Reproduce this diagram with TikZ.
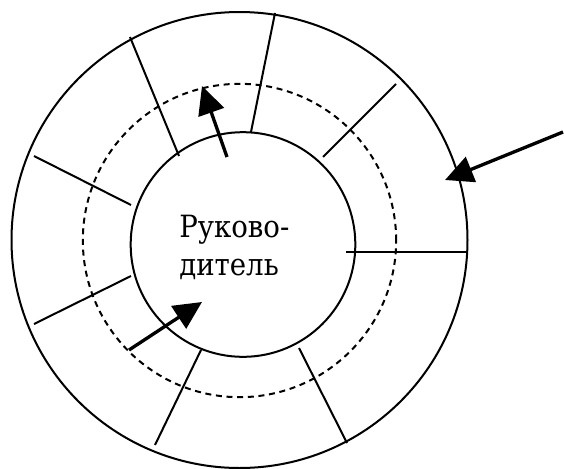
\documentclass[tikz,border=0pt]{standalone}
\usepackage{fontspec}
\setmainfont{DejaVu Serif}
\newfontfamily\tnr{DejaVu Serif Condensed}
\usetikzlibrary{arrows.meta}
\begin{document}
\begin{tikzpicture}[x=0.75pt,y=-0.75pt,
  ring/.style={draw, circle, inner sep=0pt, line width=1.5pt},
  spoke/.style={line width=1.5pt},
  flow/.style={line width=2.5pt, -{Triangle[length=21pt,width=20pt]}}]
\useasboundingbox (0,0) rectangle (564,468);
\node[ring, minimum size=342pt] (outer) at (239.5,240) {};
\node[ring, dash pattern=on 4.5pt off 3.5pt, minimum size=235pt] (mid) at (239.5,240.5) {};
\node[ring, minimum size=168.5pt] (inner) at (243,244.5) {};
\node[font=\tnr\fontsize{23}{28.5}\selectfont, align=left, anchor=west, inner sep=0pt] (boss) at (179,247) {Руково-\\дитель};
% spokes
\draw[spoke] (130,37) -- (179,156);
\draw[spoke] (275,13) -- (251,132);
\draw[spoke] (396,84) -- (323,157);
\draw[spoke] (346,252) -- (468,252);
\draw[spoke] (299,348) -- (347,443);
\draw[spoke] (201,350) -- (155,445);
\draw[spoke] (131,276) -- (34,324);
\draw[spoke] (34,156) -- (131,205);
% arrows
\coordinate (a1s) at (227,157);
\coordinate (a1e) at (202,86);
\coordinate (a2s) at (129,350);
\coordinate (a2e) at (202,302);
\coordinate (a3s) at (563,132);
\coordinate (a3e) at (445,180);
\draw[flow] (a1s) -- (a1e);
\draw[flow] (a2s) -- (a2e);
\draw[flow] (a3s) -- (a3e);
\end{tikzpicture}
\end{document}
